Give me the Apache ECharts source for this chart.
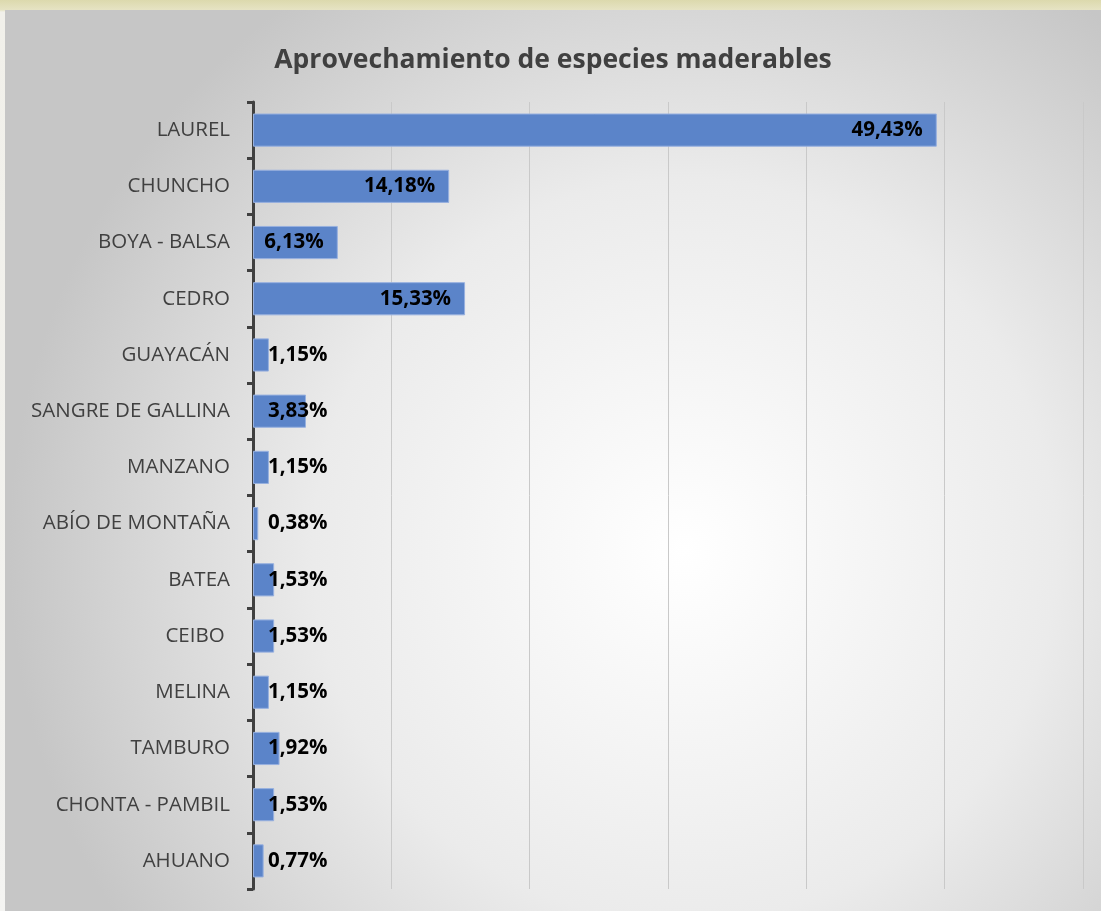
<!DOCTYPE html>
<html>
<head>
<meta charset="utf-8">
<script src="https://cdn.jsdelivr.net/npm/echarts@6/dist/echarts.min.js"></script>
<style>
  html, body { margin: 0; padding: 0; }
  body {
    width: 1101px; height: 911px; overflow: hidden; position: relative;
    background: linear-gradient(180deg, #dcd9ad 0px, #e6e3c4 10px, #f1f0ea 12px, #f4f4f2 100%);
  }
  #chart { position: absolute; left: 5px; top: 10px; width: 1096px; height: 901px; }
</style>
</head>
<body>
<div id="chart"></div>
<script>
// especies (de arriba hacia abajo)
var especies = ['LAUREL', 'CHUNCHO', 'BOYA - BALSA', 'CEDRO', 'GUAYACÁN', 'SANGRE DE GALLINA', 'MANZANO',
  'ABÍO DE MONTAÑA', 'BATEA', 'CEIBO ', 'MELINA', 'TAMBURO', 'CHONTA - PAMBIL', 'AHUANO']
// porcentaje de aprovechamiento
var porcentajes = [49.43, 14.18, 6.13, 15.33, 1.15, 3.83, 1.15, 0.38, 1.53, 1.53, 1.15, 1.92, 1.53, 0.77]

var chart = echarts.init(document.getElementById('chart'))

function fmt (v) {
  return v.toFixed(2).replace('.', ',') + '%'
}

var barData = porcentajes.map(function (v) {
  var big = v > 5
  return {
    value: v,
    label: big ? { position: 'insideRight', distance: 14 } : { position: 'insideLeft', distance: 15 }
  }
})

var option = {
  backgroundColor: {
    type: 'radial', x: 0.62, y: 0.6, r: 0.75,
    colorStops: [
      { offset: 0, color: '#ffffff' },
      { offset: 0.55, color: '#ebebeb' },
      { offset: 1, color: '#c6c6c6' }
    ]
  },
  title: {
    text: 'Aprovechamiento de especies maderables',
    left: 'center',
    top: 32,
    textStyle: { fontFamily: 'Open Sans', fontSize: 26.5, fontWeight: 'bold', color: '#404040' }
  },
  grid: { left: 248, right: 18, top: 92, bottom: 22 },
  xAxis: {
    type: 'value',
    min: 0,
    max: 60,
    interval: 10,
    axisLabel: { show: false },
    axisLine: { show: false },
    axisTick: { show: false },
    splitLine: { lineStyle: { color: '#c9c9c9', width: 1 } }
  },
  yAxis: {
    type: 'category',
    inverse: true,
    data: especies,
    axisLine: { lineStyle: { color: '#404040', width: 3 } },
    axisTick: { show: true, inside: false, interval: 0, length: 6, lineStyle: { color: '#404040', width: 3 } },
    axisLabel: { fontFamily: 'Open Sans', fontSize: 20.5, color: '#404040', margin: 23 }
  },
  series: [{
    type: 'bar',
    data: barData,
    barCategoryGap: '41%',
    itemStyle: { color: '#5b84c9', borderColor: '#97b0df', borderWidth: 1 },
    label: {
      show: true,
      fontFamily: 'Open Sans',
      fontSize: 20.5,
      fontWeight: 'bold',
      color: '#000000',
      formatter: function (p) { return fmt(p.value) }
    }
  }]
}

chart.setOption(option)
</script>
</body>
</html>
